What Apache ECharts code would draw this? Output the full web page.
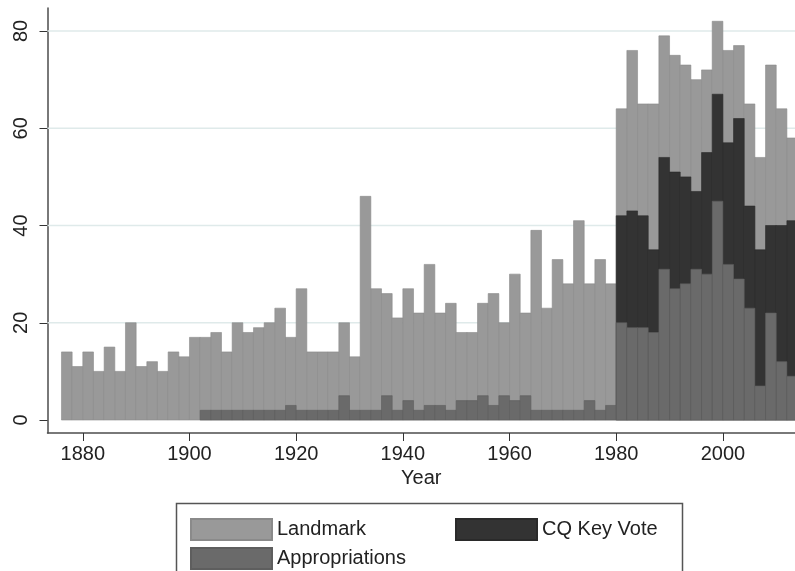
<!DOCTYPE html>
<html>
<head>
<meta charset="utf-8">
<script src="https://cdn.jsdelivr.net/npm/echarts@6/dist/echarts.min.js"></script>
<style>
  html, body { margin: 0; padding: 0; background: #fff; }
  #main { width: 795px; height: 571px; }
</style>
</head>
<body>
<div id="main"></div>
<script>
// start year of each 2-year bin
const years = [
  1876, 1878, 1880, 1882, 1884, 1886, 1888, 1890, 1892, 1894, 1896, 1898,
  1900, 1902, 1904, 1906, 1908, 1910, 1912, 1914, 1916, 1918,
  1920, 1922, 1924, 1926, 1928, 1930, 1932, 1934, 1936, 1938,
  1940, 1942, 1944, 1946, 1948, 1950, 1952, 1954, 1956, 1958,
  1960, 1962, 1964, 1966, 1968, 1970, 1972, 1974, 1976, 1978,
  1980, 1982, 1984, 1986, 1988, 1990, 1992, 1994, 1996, 1998,
  2000, 2002, 2004, 2006, 2008, 2010, 2012
];
const landmark = [
  14, 11, 14, 10, 15, 10, 20, 11, 12, 10, 14, 13,
  17, 17, 18, 14, 20, 18, 19, 20, 23, 17,
  27, 14, 14, 14, 20, 13, 46, 27, 26, 21,
  27, 22, 32, 22, 24, 18, 18, 24, 26, 20,
  30, 22, 39, 23, 33, 28, 41, 28, 33, 28,
  64, 76, 65, 65, 79, 75, 73, 70, 72, 82,
  76, 77, 65, 54, 73, 64, 58
];
const cqKeyVote = [
  0, 0, 0, 0, 0, 0, 0, 0, 0, 0, 0, 0,
  0, 0, 0, 0, 0, 0, 0, 0, 0, 0,
  0, 0, 0, 0, 0, 0, 0, 0, 0, 0,
  0, 0, 0, 0, 0, 0, 0, 0, 0, 0,
  0, 0, 0, 0, 0, 0, 0, 0, 0, 0,
  42, 43, 42, 35, 54, 51, 50, 47, 55, 67,
  57, 62, 44, 35, 40, 40, 41
];
const appropriations = [
  0, 0, 0, 0, 0, 0, 0, 0, 0, 0, 0, 0,
  0, 2, 2, 2, 2, 2, 2, 2, 2, 3,
  2, 2, 2, 2, 5, 2, 2, 2, 5, 2,
  4, 2, 3, 3, 2, 4, 4, 5, 3, 5,
  4, 5, 2, 2, 2, 2, 2, 4, 2, 3,
  20, 19, 19, 18, 31, 27, 28, 31, 30, 45,
  32, 29, 23, 7, 22, 12, 9
];
const yTicks = [0, 20, 40, 60, 80];
const xTicks = [1880, 1900, 1920, 1940, 1960, 1980, 2000];
const binWidth = 2;

// axis range: the picture is cut at the right edge, inside the last bin
const xMin = 1873.38, xMax = 2013.52;
const font = 'Liberation Sans, Arial, sans-serif';

const chart = echarts.init(document.getElementById('main'));

function barRender(params, api) {
  const v = api.value(1);
  if (!v) return null;
  const p0 = api.coord([api.value(0), v]);
  const p1 = api.coord([api.value(0) + binWidth, 0]);
  return {
    type: 'rect',
    shape: { x: p0[0], y: p0[1], width: p1[0] - p0[0], height: p1[1] - p0[1] },
    style: api.style()
  };
}

function barSeries(name, values, color, border, z) {
  return {
    name: name,
    type: 'custom',
    renderItem: barRender,
    data: years.map((y, i) => [y, values[i]]),
    encode: { x: 0, y: 1 },
    itemStyle: { color: color, borderColor: border, borderWidth: 0.6 },
    z: z,
    clip: true,
    silent: true
  };
}

function legendItem(name, left, top) {
  return {
    data: [name],
    left: left,
    top: top,
    icon: 'rect',
    itemWidth: 81,
    itemHeight: 21,
    selectedMode: false,
    textStyle: { fontFamily: font, fontSize: 20, color: '#222' }
  };
}

const option = {
  backgroundColor: '#fff',
  animation: false,
  grid: { left: 47.5, top: 8, right: 0, bottom: 138 },
  xAxis: {
    type: 'value',
    min: xMin,
    max: xMax,
    name: 'Year',
    nameLocation: 'middle',
    nameGap: 34,
    nameTextStyle: { fontFamily: font, fontSize: 20, color: '#222' },
    axisLine: { onZero: false, lineStyle: { color: '#4d4d4d', width: 1.5 } },
    axisTick: { customValues: xTicks, length: 8, lineStyle: { color: '#333' } },
    axisLabel: {
      customValues: xTicks, margin: 11, fontFamily: font, fontSize: 20, color: '#222',
      formatter: v => String(v)
    },
    splitLine: { show: false }
  },
  yAxis: {
    type: 'value',
    min: -2.67,
    max: 84.73,
    axisLine: { show: true, onZero: false, lineStyle: { color: '#4d4d4d', width: 1.5 } },
    axisTick: { show: true, customValues: yTicks, length: 8, lineStyle: { color: '#333' } },
    axisLabel: { customValues: yTicks, rotate: 90, margin: 16, fontFamily: font, fontSize: 20, color: '#222' },
    splitLine: { show: false }
  },
  legend: [
    legendItem('Landmark', 185, 513),
    legendItem('CQ Key Vote', 450, 513),
    legendItem('Appropriations', 185, 542)
  ],
  graphic: [{
    type: 'rect',
    shape: { x: 176.5, y: 503.5, width: 506, height: 100 },
    style: { fill: 'none', stroke: '#555', lineWidth: 1.5 },
    silent: true
  }],
  series: [
    {
      name: 'grid',
      type: 'custom',
      silent: true,
      z: 1,
      data: yTicks.filter(v => v > 0).map(v => [xMin, v]),
      encode: { x: 0, y: 1 },
      renderItem: function (params, api) {
        const a = api.coord([xMin, api.value(1)]);
        const b = api.coord([xMax, api.value(1)]);
        return {
          type: 'line',
          shape: { x1: a[0], y1: a[1], x2: b[0], y2: b[1] },
          style: { stroke: '#dfeaea', lineWidth: 1.5 }
        };
      }
    },
    barSeries('Landmark', landmark, '#999999', '#8a8a8a', 2),
    barSeries('CQ Key Vote', cqKeyVote, '#333333', '#2a2a2a', 3),
    barSeries('Appropriations', appropriations, '#6a6a6a', '#5e5e5e', 4)
  ]
};

chart.setOption(option);
</script>
</body>
</html>
